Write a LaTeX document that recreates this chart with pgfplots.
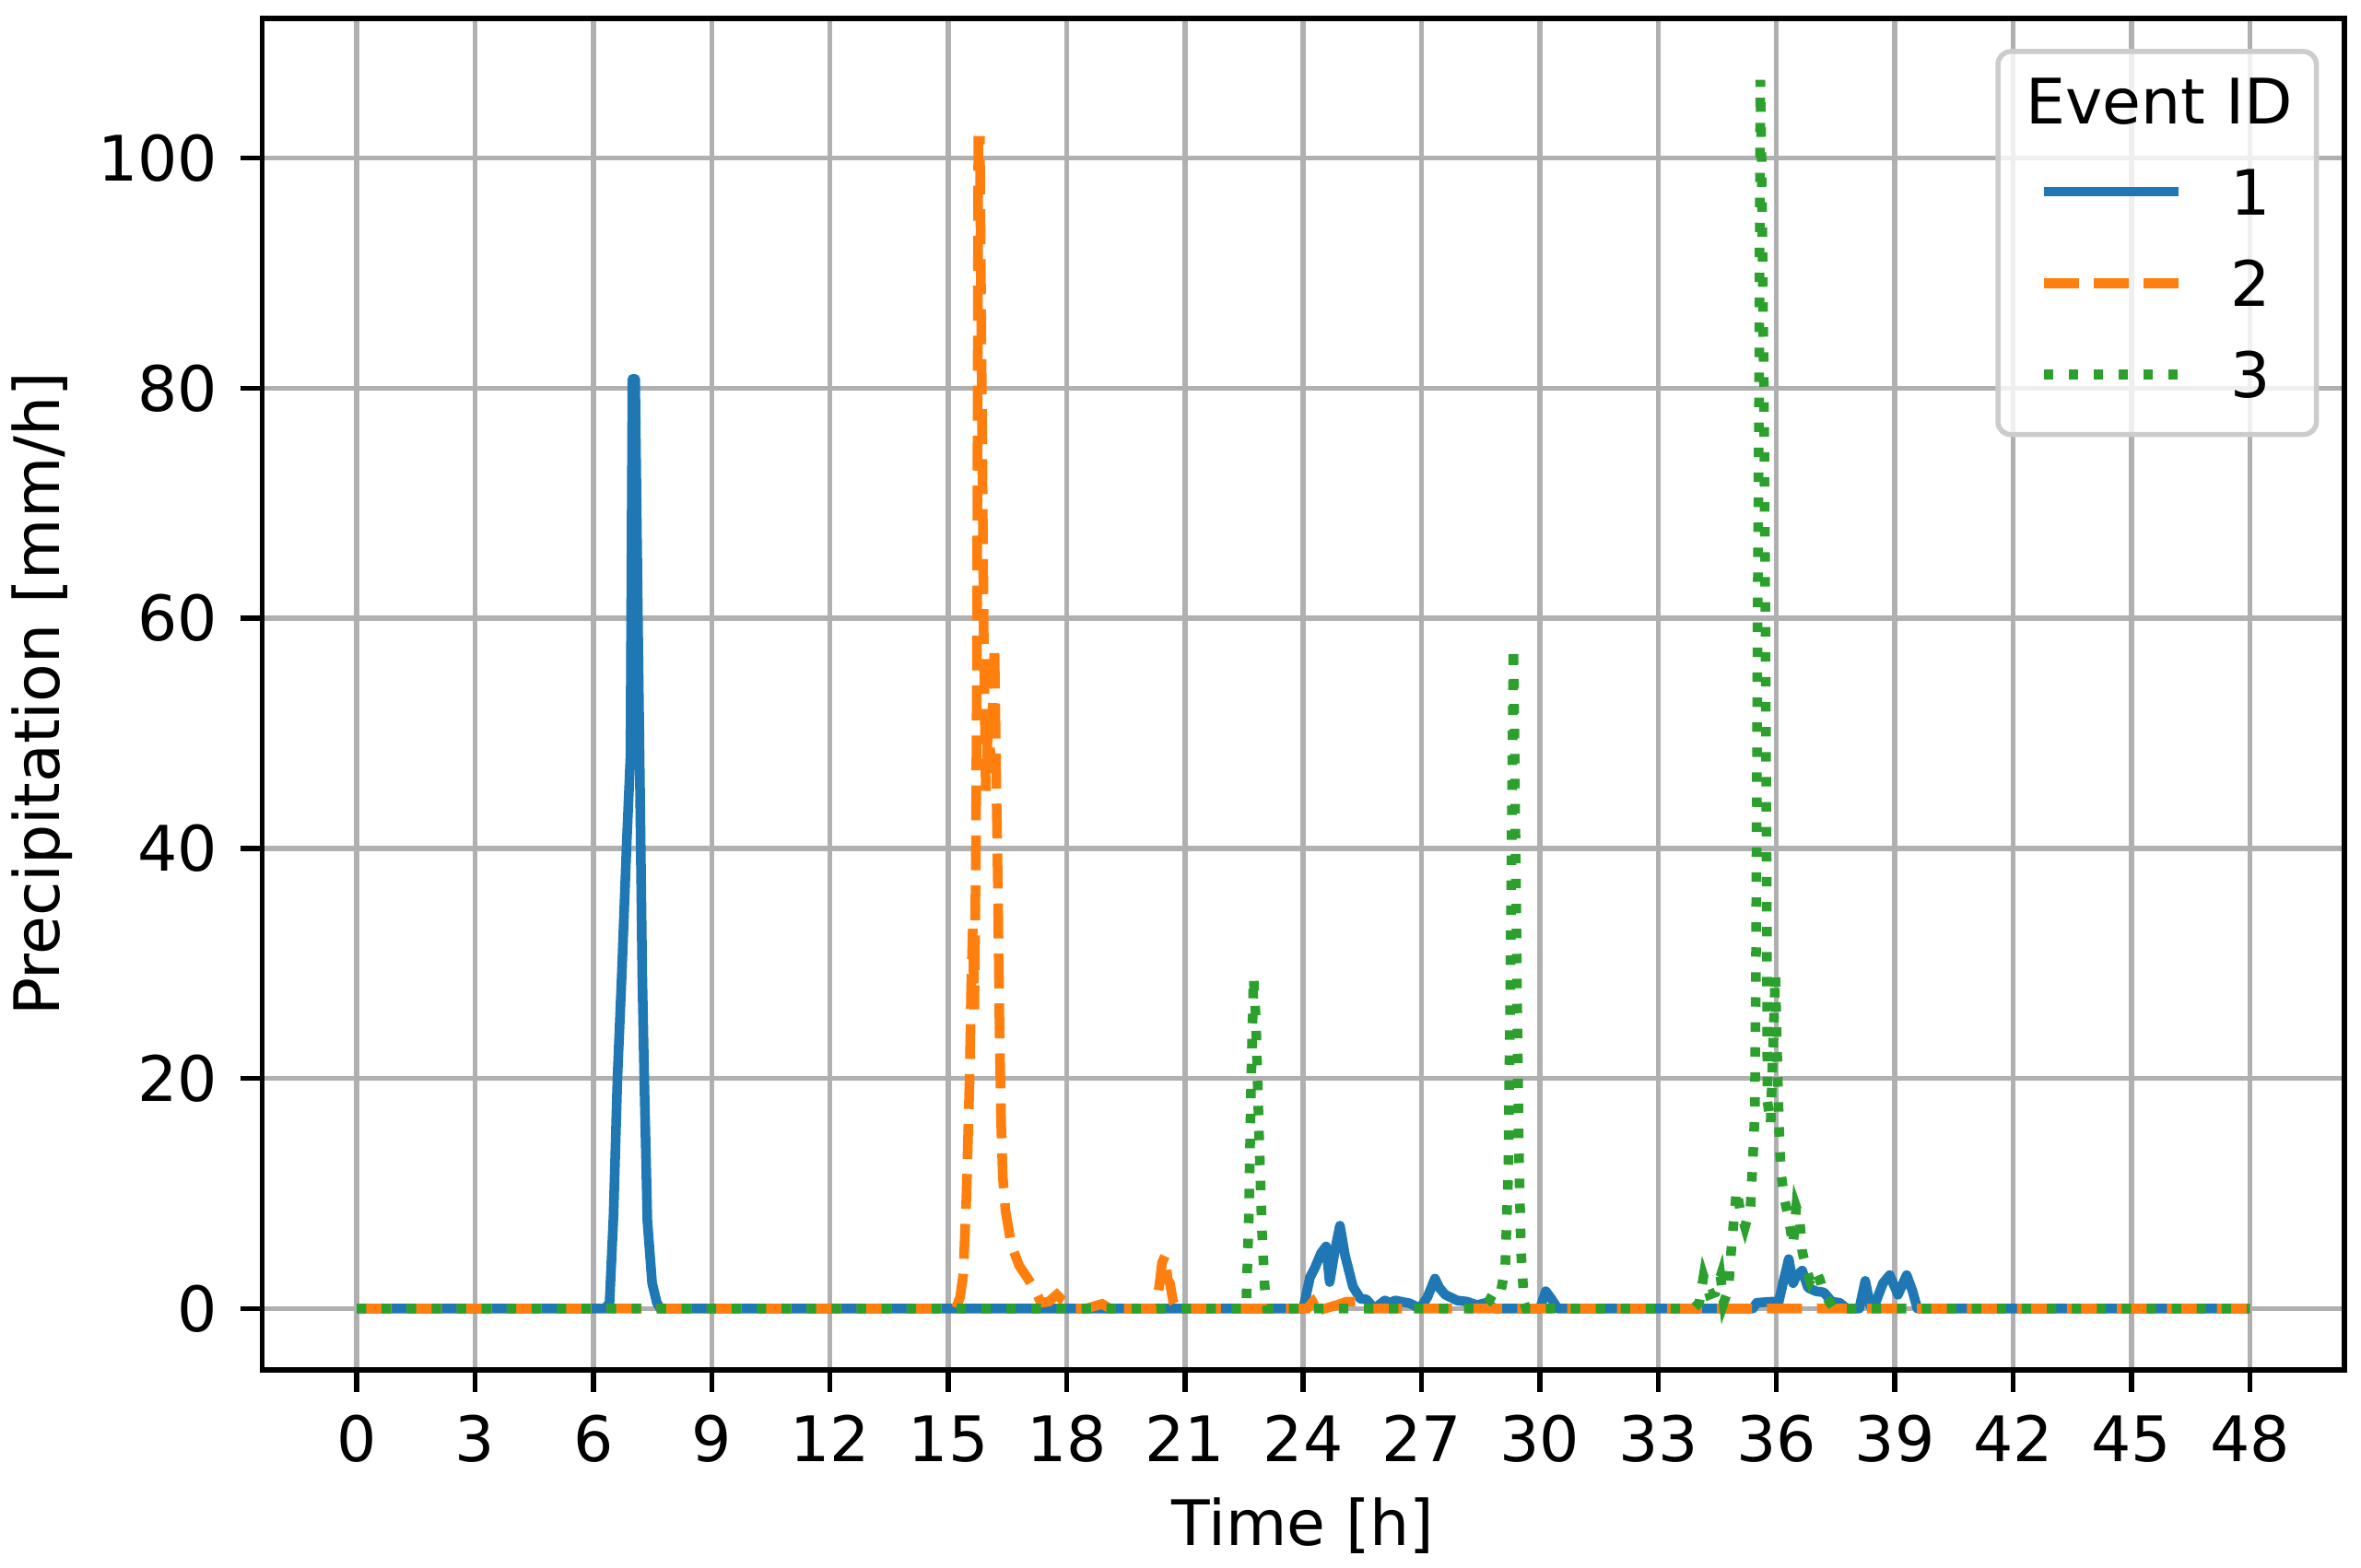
\documentclass[border=0pt]{standalone}
\usepackage{fontspec}
\setmainfont{DejaVu Sans}
\usepackage{pgfplots}
\pgfplotsset{compat=1.18}

\definecolor{c1}{HTML}{1F77B4}
\definecolor{c2}{HTML}{FF7F0E}
\definecolor{c3}{HTML}{2CA02C}
\definecolor{gridc}{HTML}{B0B0B0}
\definecolor{legc}{HTML}{CCCCCC}

\begin{document}
\fontsize{12.3}{14.8}\selectfont
\begin{tikzpicture}
\begin{axis}[
    scale only axis, width=5.649in, height=3.6675in,
    xmin=-2.4, xmax=50.4, ymin=-5.34, ymax=112.14,
    xtick={0,3,...,48}, ytick={0,20,...,100},
    grid=major, grid style={line width=0.98pt, gridc},
    axis line style={line width=0.98pt},
    tick pos=left, tick align=outside, major tick length=4.3pt,
    tick style={line width=0.98pt, black},
    /pgf/number format/assume math mode=true,
    xticklabel style={anchor=base, inner sep=0pt, yshift=-13.7pt},
    yticklabel style={anchor=base east, inner sep=0pt, xshift=-4.2pt, yshift=-4.5pt},
    xlabel={Time [h]}, ylabel={Precipitation [mm/h]},
    every axis x label/.style={at={(rel axis cs:0.5,0)}, anchor=base, yshift=-34.4pt},
    every axis y label/.style={at={(rel axis cs:0,0.5)}, xshift=-39.7pt, rotate=90, anchor=base},
    legend image code/.code={\draw[#1] (0pt,4.5pt) -- (26.5pt,4.5pt);},
    legend style={at={(rel axis cs:1,1)}, anchor=north east, xshift=-5pt, yshift=-6pt,
        draw=legc, line width=1pt, fill=white, fill opacity=0.8, text opacity=1, draw opacity=1,
        rounded corners=2.5pt, inner xsep=8pt, inner ysep=4.1pt,
        row sep=4.7pt, column sep=8.2pt,
        nodes={inner sep=1pt, text height=9pt, text depth=2.2pt},
        cells={anchor=base west}},
]
\addlegendimage{empty legend}
\addlegendentry{\hspace*{-40.1pt}Event ID\hspace*{-5.3pt}}

% event 1
\addplot[c1, line width=1.9pt, line join=round] coordinates {
(0,0) (6.3,0) (6.41,0.5) (6.51,8) (6.61,20) (6.72,29) (6.84,40) (6.94,48)
(6.99,80.8) (7.06,80.8) (7.13,60) (7.18,46) (7.24,29) (7.29,20) (7.37,7.6)
(7.49,2.2) (7.61,0.5) (7.7,0)
(24.0,0) (24.17,2.7) (24.29,3.5) (24.45,4.8) (24.58,5.4) (24.67,2.3) (24.8,5)
(24.93,7.2) (25.06,4.6) (25.26,1.9) (25.45,0.85) (25.6,0.8) (25.8,0)
(26.07,0.7) (26.2,0.5) (26.33,0.7) (26.7,0.45) (26.96,0)
(27.15,1) (27.34,2.6) (27.45,1.8) (27.6,1.2) (27.9,0.7) (28.15,0.6)
(28.4,0.3) (28.64,0.5) (28.85,0)
(30.0,0) (30.15,1.5) (30.3,0.8) (30.45,0)
(35.4,0) (35.5,0.5) (35.9,0.6) (36.05,0.5) (36.15,2) (36.31,4.3) (36.42,2.2)
(36.5,2.8) (36.65,3.3) (36.8,1.8) (37.0,1.5) (37.2,1.4) (37.4,0.6) (37.6,0.5)
(37.78,0) (38.1,0) (38.25,2.4) (38.38,0.2) (38.5,0.4) (38.7,2.2) (38.87,2.9)
(39.08,1.2) (39.3,2.9) (39.45,1.5) (39.57,0) (48,0)
};
\addlegendentry{1}

% event 2
\addplot[c2, line width=1.9pt, dash pattern=on 6.85pt off 2.95pt] coordinates {
(0,0) (15.19,0) (15.3,1) (15.38,3) (15.46,9.8) (15.54,20) (15.58,28) (15.62,33)
(15.66,26) (15.7,40) (15.73,60) (15.76,101.5) (15.8,101.5) (15.86,75) (15.9,58)
(15.95,45) (16.02,52) (16.08,47) (16.17,57.6) (16.22,45) (16.26,36) (16.3,24)
(16.34,16) (16.38,11.5) (16.45,8.5) (16.6,5.5) (16.8,3.7) (17.0,2.7) (17.2,1.6)
(17.35,0.5) (17.55,0.6) (17.75,1.2) (17.9,0.7) (18.05,0.4) (18.2,0)
(18.5,0) (18.7,0.2) (18.9,0.4) (19.1,0)
(20.25,0) (20.35,2) (20.42,4.0) (20.5,4.6) (20.56,2.5) (20.62,2.2) (20.7,0.6) (20.78,0)
(24.1,0) (24.3,0.8) (24.45,1.1) (24.55,0) (24.85,0.3) (25.1,0.6) (25.35,0.6) (25.5,0)
(48,0)
};
\addlegendentry{2}

% event 3
\addplot[c3, line width=1.9pt, dash pattern=on 1.85pt off 3.05pt] coordinates {
(0,0) (22.55,0) (22.62,8) (22.68,20) (22.74,28.8) (22.8,25) (22.88,15) (22.95,7)
(23.02,2) (23.08,0)
(28.5,0) (28.7,0.6) (28.85,1.5) (29.0,1.3) (29.12,3.5) (29.2,12) (29.27,35)
(29.33,57.5) (29.4,35) (29.46,15) (29.52,5) (29.6,0.5) (29.65,0)
(33.9,0) (34.04,0.5) (34.15,2.8) (34.3,1.2) (34.45,1.4) (34.58,2.8) (34.66,0.5)
(34.78,1.7) (34.85,5) (34.93,8.2) (34.99,10.3) (35.08,8.5) (35.2,7.1) (35.34,8.8)
(35.4,13) (35.45,17) (35.48,31) (35.52,60) (35.56,81) (35.59,106.8) (35.62,100)
(35.68,80) (35.72,59) (35.75,38) (35.77,18) (35.85,16) (35.97,29) (36.03,20)
(36.08,14) (36.12,11.6) (36.2,9.5) (36.3,8) (36.42,5.5) (36.5,8.8) (36.58,8)
(36.65,5) (36.75,3.5) (36.85,2.4) (37.0,3.3) (37.1,2.5) (37.2,1.3) (37.3,0.8)
(37.45,0) (48,0)
};
\addlegendentry{3}
\end{axis}
\pgfresetboundingbox
\path[use as bounding box] ([shift={(-0.711in,-0.5375in)}]current axis.south west)
    rectangle ([shift={(0.045in,0.05in)}]current axis.north east);
\end{tikzpicture}
\end{document}
